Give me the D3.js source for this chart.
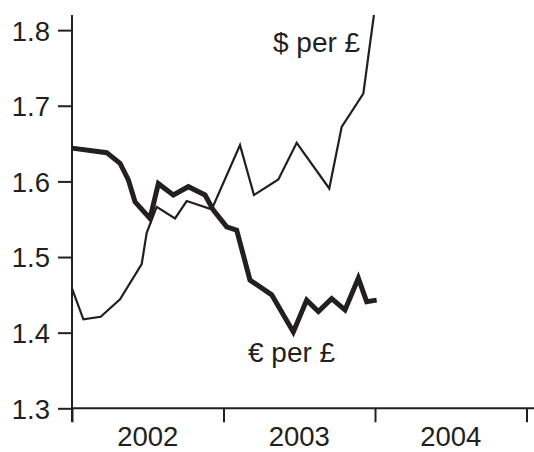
<!DOCTYPE html>
<html>
<head>
<meta charset="utf-8">
<script src="https://cdn.jsdelivr.net/npm/d3@7"></script>
<style>
html,body{margin:0;padding:0;background:#fff;}
svg{display:block;}
text{font-family:"Liberation Sans",Arial,Helvetica,sans-serif;fill:#231f20;}
</style>
</head>
<body>
<svg id="chart" width="534" height="452"></svg>
<script>
// Decimal-year dates and values
const euroDates = [2002.000,2002.229,2002.317,2002.372,2002.416,2002.515,2002.570,2002.669,2002.768,2002.878,2002.933,2003.021,2003.087,2003.175,2003.318,2003.461,2003.549,2003.626,2003.714,2003.802,2003.890,2003.945,2004.011];
const euroValues = [1.644,1.638,1.624,1.602,1.573,1.551,1.597,1.582,1.593,1.582,1.562,1.540,1.5355,1.4695,1.450,1.401,1.443,1.428,1.445,1.430,1.472,1.441,1.443];
const dollarDates = [2002.000,2002.075,2002.189,2002.317,2002.460,2002.493,2002.559,2002.680,2002.757,2002.922,2003.109,2003.201,2003.362,2003.483,2003.698,2003.780,2003.923,2003.967,2003.993];
const dollarValues = [1.4585,1.4176,1.421,1.444,1.4906,1.532,1.5663,1.551,1.574,1.563,1.648,1.582,1.6025,1.651,1.5906,1.672,1.716,1.782,1.820];
const yTicks = [1.3,1.4,1.5,1.6,1.7,1.8];
const yearTicks = [2002,2003,2004,2005];
const yearLabels = ["2002","2003","2004"];
const seriesLabels = ["$ per £","€ per £"];

const ink = "#231f20";
const svg = d3.select("#chart");
const x = d3.scaleLinear().domain([2002,2005]).range([72,526.5]);
const y = d3.scaleLinear().domain([1.3,1.82]).range([408.3,15]);

// Y axis
const yAxis = d3.axisLeft(y).tickValues(yTicks).tickFormat(d3.format(".1f")).tickSize(14).tickPadding(8);
const gy = svg.append("g").attr("transform","translate(72,0)").call(yAxis);
gy.select(".domain").remove();
gy.selectAll(".tick line").attr("stroke",ink).attr("stroke-width",2);
gy.selectAll(".tick text").attr("font-size","27.5px").attr("fill",ink).attr("dy","0.36em")
  .style("font-family","'Liberation Sans',Arial,sans-serif");
svg.append("line").attr("x1",72).attr("x2",72).attr("y1",15).attr("y2",422)
  .attr("stroke",ink).attr("stroke-width",2);

// X axis
const xAxis = d3.axisBottom(x).tickValues(yearTicks).tickFormat("").tickSize(14);
const gx = svg.append("g").attr("transform","translate(0,408.3)").call(xAxis);
gx.select(".domain").remove();
gx.selectAll(".tick line").attr("stroke",ink).attr("stroke-width",2);
svg.append("line").attr("x1",72).attr("x2",534).attr("y1",408.3).attr("y2",408.3)
  .attr("stroke",ink).attr("stroke-width",2);
svg.selectAll(".yearlab").data(yearLabels).enter().append("text")
  .attr("class","yearlab")
  .attr("x",d=>x(+d+0.5)).attr("y",446).attr("text-anchor","middle")
  .attr("font-size","27.5px").text(d=>d);

// Lines
const line = d3.line().x(d=>x(d[0])).y(d=>y(d[1]));
const dollar = dollarDates.map((d,i)=>[d,dollarValues[i]]);
const euro = euroDates.map((d,i)=>[d,euroValues[i]]);
svg.append("path").datum(dollar).attr("d",line).attr("fill","none")
  .attr("stroke",ink).attr("stroke-width",2.2).attr("stroke-linejoin","miter");
svg.append("path").datum(euro).attr("d",line).attr("fill","none")
  .attr("stroke",ink).attr("stroke-width",5).attr("stroke-linejoin","miter");

// Series labels
svg.append("text").attr("x",273).attr("y",52).attr("font-size","28px").text(seriesLabels[0]);
svg.append("text").attr("x",248).attr("y",362).attr("font-size","28px").text(seriesLabels[1]);
</script>
</body>
</html>
